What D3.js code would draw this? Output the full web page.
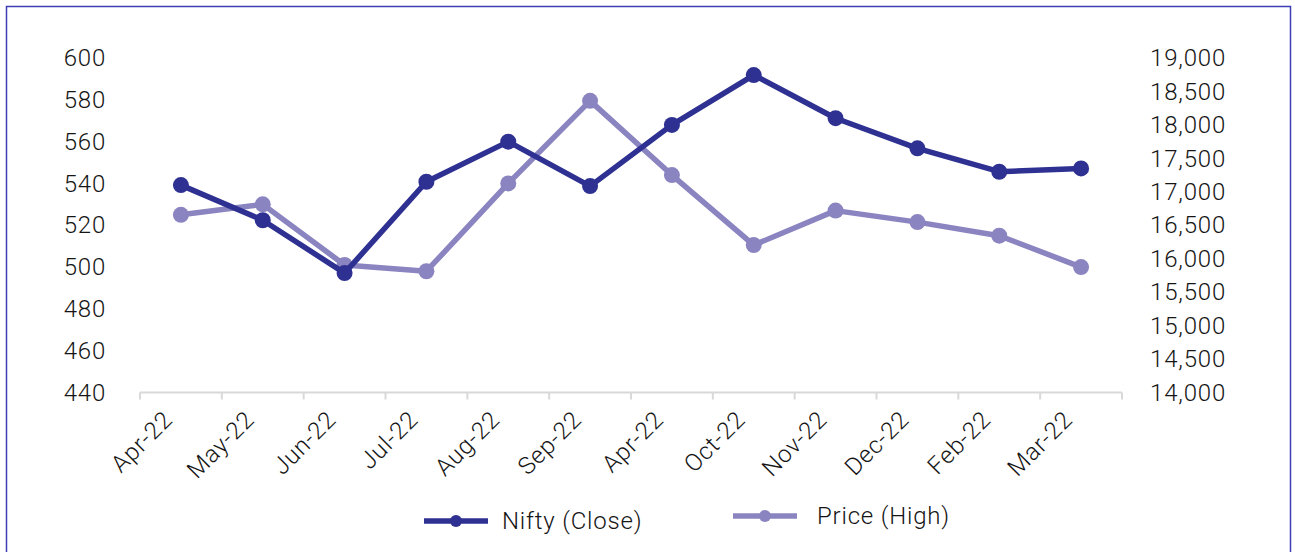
<!DOCTYPE html>
<html>
<head>
  <meta charset='utf-8'>
  <title>Nifty vs Price</title>
  <script src='https://cdn.jsdelivr.net/npm/d3@7'></script>
  <style type='text/css'>
    html, body { margin: 0; padding: 0; background: #fff; }
    #plot-container { width: 1295px; height: 552px; }
    text { font-family: Roboto, 'Open Sans', sans-serif; font-weight: 300; fill: #151515; letter-spacing: 0.8px; }
    .axis path, .axis line { stroke: #d9d9d9; stroke-width: 2px; }
  </style>
</head>
<body>
  <div id='plot-container'></div>
  <script>
    // values
    const months = ['Apr-22', 'May-22', 'Jun-22', 'Jul-22', 'Aug-22', 'Sep-22',
                    'Apr-22', 'Oct-22', 'Nov-22', 'Dec-22', 'Feb-22', 'Mar-22'];
    const niftyClose = [17100, 16575, 15785, 17150, 17750, 17085,
                        18000, 18745, 18100, 17650, 17300, 17350];
    const priceHigh = [525, 530, 501, 498, 540, 579.5,
                       544, 510.5, 527, 521.5, 515, 500];
    const leftTicks = [440, 460, 480, 500, 520, 540, 560, 580, 600];
    const rightTicks = [14000, 14500, 15000, 15500, 16000, 16500,
                        17000, 17500, 18000, 18500, 19000];
    const seriesNames = ['Nifty (Close)', 'Price (High)'];
    const darkColor = '#2e3192';
    const lightColor = '#8a84c0';

    const W = 1295, H = 552;
    const svg = d3.select('#plot-container').append('svg')
        .attr('width', W)
        .attr('height', H);

    // frame
    svg.append('rect')
        .attr('x', 6.5).attr('y', 6.5)
        .attr('width', 1284).attr('height', 570)
        .attr('fill', 'none')
        .attr('stroke', '#3d3db8')
        .attr('stroke-width', 1.5);

    const x = d3.scaleBand()
        .domain(d3.range(months.length))
        .range([140, 1122]);
    const cx = i => x(i) + x.bandwidth() / 2;
    const yLeft = d3.scaleLinear().domain([440, 600]).range([392.5, 58]);
    const yRight = d3.scaleLinear().domain([14000, 19000]).range([392.5, 58]);

    // x axis with rotated labels
    const xAxis = svg.append('g')
        .attr('class', 'axis axis-x')
        .attr('transform', 'translate(0, 392.5)')
        .call(d3.axisBottom(x).tickSize(0).tickFormat(''));
    xAxis.select('.domain').attr('d', 'M140,0H1122');
    xAxis.selectAll('.tick').remove();
    xAxis.selectAll('.sep')
        .data(d3.range(months.length + 1))
        .enter().append('line')
        .attr('class', 'sep')
        .attr('x1', i => i < months.length ? x(i) : 1122)
        .attr('x2', i => i < months.length ? x(i) : 1122)
        .attr('y1', 0).attr('y2', 7);
    svg.append('g').selectAll('text')
        .data(months)
        .enter().append('text')
        .attr('transform', (d, i) => `translate(${cx(i) - 7}, 421) rotate(-45)`)
        .attr('text-anchor', 'end')
        .style('font-size', '24px')
        .text(d => d);

    // left and right value axes (labels only)
    const leftAxis = svg.append('g')
        .attr('transform', 'translate(106, 0)')
        .call(d3.axisLeft(yLeft).tickValues(leftTicks).tickSize(0).tickPadding(0));
    const rightAxis = svg.append('g')
        .attr('transform', 'translate(1226, 0)')
        .call(d3.axisLeft(yRight).tickValues(rightTicks)
            .tickSize(0).tickPadding(0).tickFormat(d3.format(',')));
    [leftAxis, rightAxis].forEach(a => {
        a.select('.domain').remove();
        a.selectAll('text')
            .style('font-size', '24px')
            .attr('font-family', null)
            .attr('fill', null);
    });

    // draws one series: line plus round markers
    function drawSeries(values, yScale, color) {
        const line = d3.line()
            .x((d, i) => cx(i))
            .y(d => yScale(d));
        svg.append('path')
            .datum(values)
            .attr('d', line)
            .attr('fill', 'none')
            .attr('stroke', color)
            .attr('stroke-width', 5.5)
            .attr('stroke-linejoin', 'round');
        svg.append('g').selectAll('circle')
            .data(values)
            .enter().append('circle')
            .attr('cx', (d, i) => cx(i))
            .attr('cy', d => yScale(d))
            .attr('r', 8)
            .attr('fill', color);
    }
    drawSeries(priceHigh, yLeft, lightColor);
    drawSeries(niftyClose, yRight, darkColor);

    // legend
    const legend = [
        { name: seriesNames[0], color: darkColor, x: 424, y: 521 },
        { name: seriesNames[1], color: lightColor, x: 733, y: 516 }
    ];
    const lg = svg.append('g').selectAll('g')
        .data(legend)
        .enter().append('g')
        .attr('transform', d => `translate(${d.x}, ${d.y})`);
    lg.append('line')
        .attr('x1', 0).attr('x2', 64)
        .attr('stroke', d => d.color)
        .attr('stroke-width', 5.5);
    lg.append('circle')
        .attr('cx', 32).attr('r', 6)
        .attr('fill', d => d.color);
    lg.append('text')
        .attr('x', d => d.name === seriesNames[0] ? 78 : 84)
        .attr('dy', '0.35em')
        .style('font-size', '24px')
        .text(d => d.name);
  </script>
</body>
</html>
